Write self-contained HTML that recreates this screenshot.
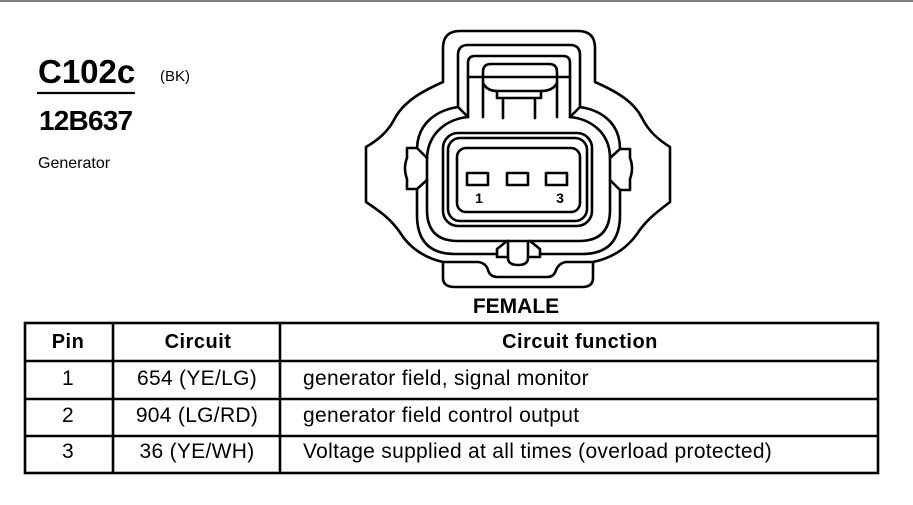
<!DOCTYPE html>
<html><head><meta charset="utf-8"><style>
html,body{margin:0;padding:0;background:#fff;}
svg{display:block;}
text{font-family:"Liberation Sans",Arial,Helvetica,sans-serif;fill:#000;}
</style></head><body>
<svg width="913" height="505" viewBox="0 0 913 505" xmlns="http://www.w3.org/2000/svg">
<rect width="913" height="505" fill="#fff"/>
<line x1="0" y1="1" x2="913" y2="1" stroke="#808080" stroke-width="2"/>

<text x="38" y="83" font-size="33" font-weight="bold">C102c</text>
<line x1="37" y1="93" x2="135" y2="93" stroke="#000" stroke-width="2.2"/>
<text x="160" y="81" font-size="15">(BK)</text>
<text x="39" y="130" font-size="28" font-weight="bold" letter-spacing="-0.8">12B637</text>
<text x="38" y="168" font-size="16">Generator</text>

<g fill="none" stroke="#000" stroke-width="2.6" stroke-linejoin="round" stroke-linecap="round">
  <path d="M443,82 L443,48 Q443,31 460,31 L578,31 Q595,31 595,48 L595,82 C613,90 633,100 642,118 C649,132 659,140 670,147 L670,202 C657,212 646,220 637,234 C627,248 612,258 593,262 L593,278 Q593,287 582,287 L455,287 Q443,287 443,278 L443,262 C425,258 410,248 401,234 C392,220 381,212 366,202 L366,147 C378,140 388,132 395,118 C405,100 425,90 443,82 Z"/>
  <path d="M443,262 L478,262 Q486,263 488,270 Q490,277 498,277 L547,277 Q554,277 556,270 Q559,263 566,262 L593,262"/>
  <path d="M458,107 L458,55 Q458,45 468,45 L570,45 Q580,45 580,55 L580,107 M458,107 L468,117 M580,107 L570,117"/>
  <path d="M468,117 L468,63 Q468,56 475,56 L563,56 Q570,56 570,63 L570,117"/>
  <path d="M468,77 L570,77"/>
  <path d="M483,117 L483,72 Q483,64 491,64 L549,64 Q557,64 557,72 L557,117"/>
  <path d="M483,83 Q487,91 497,91 L541,91 Q553,91 557,83"/>
  <path d="M497,91 L497,98 L541,98 L541,91 M503,98 L503,118 M535,98 L535,118"/>
  <path d="M458,107 C438,110 418,122 417,148"/>
  <path d="M468,117 C448,119 428,132 427,158"/>
  <path d="M580,107 C600,110 620,122 620,149"/>
  <path d="M570,117 C590,119 610,132 610,158"/>
  <path d="M417,148 L407,148 L407,158 Q403,168 407,179 L407,189 L417,189 M417,148 L427,158 M417,189 L427,180"/>
  <path d="M620,149 L630,149 L630,158 Q634,168 630,179 L630,190 L620,190 M620,149 L610,158 M620,190 L610,180"/>
  <path d="M427,158 L427,210 Q427,241 458,241 L579,241 Q610,241 610,210 L610,158"/>
  <path d="M417,189 L417,215 Q417,254 455,254 L497,254 M540,254 L582,254 Q620,254 620,215 L620,190"/>
  <path d="M507,241 L497,249 L497,257 L508,257 M530,241 L540,249 L540,257 L528,257"/>
  <path d="M508,241 L508,258 Q508,265 518,265 Q528,265 528,258 L528,241"/>
  <rect x="443" y="133" width="149" height="93" rx="15"/>
  <rect x="448" y="138" width="139" height="83" rx="12"/>
  <rect x="457" y="148" width="123" height="64" rx="9"/>
  <rect x="467" y="173" width="21" height="12"/>
  <rect x="507" y="173" width="21" height="12"/>
  <rect x="546" y="173" width="21" height="12"/>
</g>
<text x="479" y="203" font-size="14" font-weight="bold" text-anchor="middle">1</text>
<text x="560" y="203" font-size="14" font-weight="bold" text-anchor="middle">3</text>
<text x="516" y="313" font-size="21" font-weight="bold" text-anchor="middle">FEMALE</text>

<g fill="none" stroke="#000" stroke-width="2.6">
  <rect x="25" y="323" width="853" height="150"/>
  <line x1="113" y1="323" x2="113" y2="473"/>
  <line x1="280" y1="323" x2="280" y2="473"/>
  <line x1="25" y1="361" x2="878" y2="361"/>
  <line x1="25" y1="399" x2="878" y2="399"/>
  <line x1="25" y1="436" x2="878" y2="436"/>
</g>
<g font-size="20" font-weight="bold" letter-spacing="0.5">
  <text x="68" y="348" text-anchor="middle">Pin</text>
  <text x="198" y="348" text-anchor="middle">Circuit</text>
  <text x="580" y="348" text-anchor="middle">Circuit function</text>
</g>
<g font-size="21" letter-spacing="0.3">
  <text x="68" y="385" text-anchor="middle">1</text>
  <text x="197" y="385" text-anchor="middle">654 (YE/LG)</text>
  <text x="303" y="385">generator field, signal monitor</text>
  <text x="68" y="422" text-anchor="middle">2</text>
  <text x="197" y="422" text-anchor="middle">904 (LG/RD)</text>
  <text x="303" y="422">generator field control output</text>
  <text x="68" y="458" text-anchor="middle">3</text>
  <text x="197" y="458" text-anchor="middle">36 (YE/WH)</text>
  <text x="303" y="458">Voltage supplied at all times (overload protected)</text>
</g>
</svg>
</body></html>
